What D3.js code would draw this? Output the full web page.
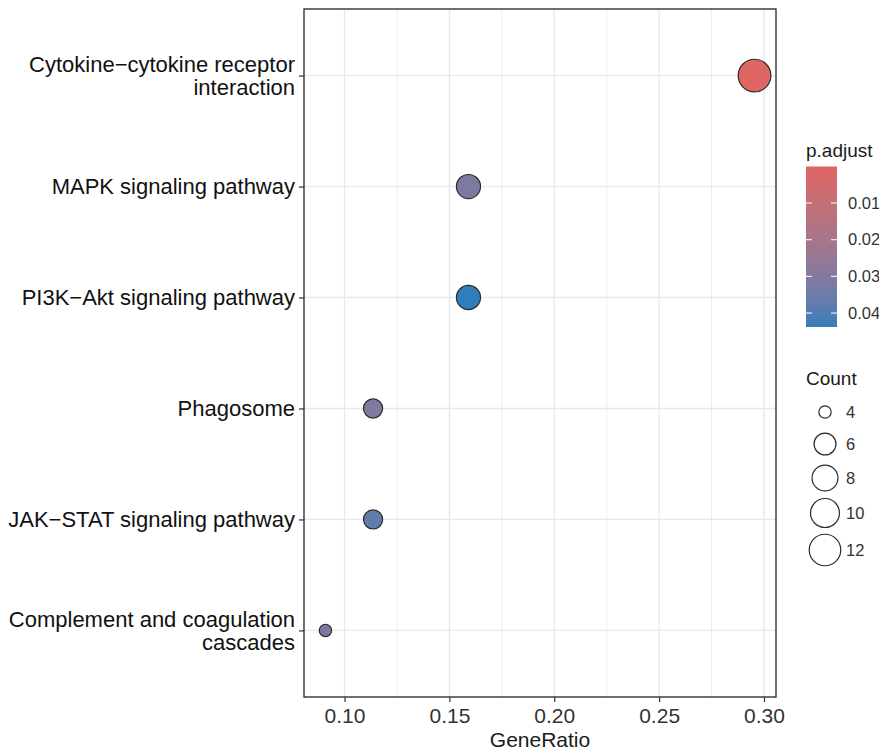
<!DOCTYPE html>
<html>
<head>
<meta charset="utf-8">
<script src="https://cdn.jsdelivr.net/npm/d3@7"></script>
<style>
  html, body { margin: 0; padding: 0; background: #fff; }
  svg { display: block; font-family: "Liberation Sans", Arial, sans-serif; }
</style>
</head>
<body>
<svg id="chart" width="879" height="752"></svg>
<script>
// KEGG enrichment dot plot data
const pathways = [
  "Cytokine\u2212cytokine receptor interaction",
  "MAPK signaling pathway",
  "PI3K\u2212Akt signaling pathway",
  "Phagosome",
  "JAK\u2212STAT signaling pathway",
  "Complement and coagulation cascades"
];
const geneRatio = [0.2955, 0.1591, 0.1591, 0.1136, 0.1136, 0.0909];
const geneCount = [13, 7, 7, 5, 5, 4];
const pAdjust = [0.00005, 0.0315, 0.0438, 0.0310, 0.0375, 0.0315];

const xTicks = [0.10, 0.15, 0.20, 0.25, 0.30];
const pTicks = [0.01, 0.02, 0.03, 0.04];
const countBreaks = [4, 6, 8, 10, 12];
const colorLow = "#e06663", colorHigh = "#327eba";

const rows = pathways.map((p, i) => ({
  name: p, ratio: geneRatio[i], count: geneCount[i], p: pAdjust[i]
}));

const svg = d3.select("#chart");
const panel = { left: 304, right: 776, top: 9, bottom: 697 };

// x scale with 5% expansion on each side
const xExt = d3.extent(geneRatio);
const xPad = (xExt[1] - xExt[0]) * 0.05;
const x = d3.scaleLinear()
  .domain([xExt[0] - xPad, xExt[1] + xPad])
  .range([panel.left, panel.right]);

const y = d3.scalePoint()
  .domain(pathways)
  .range([panel.top, panel.bottom])
  .padding(0.6);

// colour: smallest p.adjust is red, largest is blue
const pExt = d3.extent(pAdjust);
const color = d3.scaleLinear()
  .domain(pExt)
  .range([colorLow, colorHigh])
  .interpolate(d3.interpolateLab);

// size: area-proportional mapping into [3, 8] point sizes
const cExt = [4, 13];
const sizeNorm = d3.scaleLinear().domain(cExt).range([0, 1]).clamp(true);
const sizeArea = d3.scaleSqrt().domain([0, 1]).range([3, 8]);
const radius = c => 1.43 * (sizeArea(sizeNorm(c)) * 2.845 + 0.945) / 2;

// grid lines
const g = svg.append("g");
const minorTicks = d3.range(0.075, 0.3251, 0.05).filter(v => x(v) > panel.left && x(v) < panel.right);
g.selectAll("line.minor").data(minorTicks).join("line")
  .attr("x1", d => x(d)).attr("x2", d => x(d))
  .attr("y1", panel.top).attr("y2", panel.bottom)
  .attr("stroke", "#eeeeee").attr("stroke-width", 1);
g.selectAll("line.majx").data(xTicks).join("line")
  .attr("x1", d => x(d)).attr("x2", d => x(d))
  .attr("y1", panel.top).attr("y2", panel.bottom)
  .attr("stroke", "#e8e8e8").attr("stroke-width", 1.3);
g.selectAll("line.majy").data(pathways).join("line")
  .attr("x1", panel.left).attr("x2", panel.right)
  .attr("y1", d => y(d)).attr("y2", d => y(d))
  .attr("stroke", "#e8e8e8").attr("stroke-width", 1.3);

// points
svg.append("g").selectAll("circle").data(rows).join("circle")
  .attr("cx", d => x(d.ratio))
  .attr("cy", d => y(d.name))
  .attr("r", d => radius(d.count) - 0.6)
  .attr("fill", d => color(d.p))
  .attr("stroke", "#2b2b2b")
  .attr("stroke-width", 1.2);

// panel border
svg.append("rect")
  .attr("x", panel.left).attr("y", panel.top)
  .attr("width", panel.right - panel.left)
  .attr("height", panel.bottom - panel.top)
  .attr("fill", "none").attr("stroke", "#333").attr("stroke-width", 1.4);

// x axis
const xAxis = svg.append("g")
  .attr("transform", `translate(0,${panel.bottom})`)
  .call(d3.axisBottom(x).tickValues(xTicks).tickFormat(d3.format(".2f")).tickSizeOuter(0).tickSizeInner(5).tickPadding(6));
xAxis.select(".domain").remove();
xAxis.selectAll(".tick line").attr("stroke", "#333").attr("stroke-width", 1.2);
xAxis.selectAll(".tick text")
  .attr("font-size", 21).attr("fill", "#333")
  .attr("font-family", "Liberation Sans, Arial, sans-serif");

svg.append("text")
  .attr("x", (panel.left + panel.right) / 2).attr("y", 747)
  .attr("text-anchor", "middle")
  .attr("font-size", 21).attr("fill", "#1a1a1a")
  .text("GeneRatio");

// y axis with wrapped labels
const yAxis = svg.append("g")
  .attr("transform", `translate(${panel.left},0)`)
  .call(d3.axisLeft(y).tickSizeOuter(0).tickSizeInner(5).tickPadding(8).tickFormat(""));
yAxis.select(".domain").remove();
yAxis.selectAll(".tick line").attr("stroke", "#333").attr("stroke-width", 1.2);

function wrap(str, width) {
  const words = str.split(" ");
  const lines = [];
  let cur = "";
  words.forEach(w => {
    if (cur && (cur + " " + w).length > width) { lines.push(cur); cur = w; }
    else cur = cur ? cur + " " + w : w;
  });
  if (cur) lines.push(cur);
  return lines;
}

const lineH = 23;
pathways.forEach(p => {
  const lines = wrap(p, 30);
  const t = svg.append("text")
    .attr("x", panel.left - 9)
    .attr("text-anchor", "end")
    .attr("font-size", 22)
    .attr("fill", "#111");
  const y0 = y(p) - (lines.length - 1) * lineH / 2;
  lines.forEach((l, i) => {
    t.append("tspan").attr("x", panel.left - 9)
      .attr("y", y0 + i * lineH).attr("dy", "0.35em").text(l);
  });
});

// colour legend
const cb = { x: 806, y: 166.5, w: 31, h: 160.5 };
svg.append("text").attr("x", 806).attr("y", 157)
  .attr("font-size", 19).attr("fill", "#1a1a1a").text("p.adjust");

const defs = svg.append("defs");
const grad = defs.append("linearGradient").attr("id", "pgrad")
  .attr("x1", 0).attr("y1", 0).attr("x2", 0).attr("y2", 1);
d3.range(0, 1.0001, 0.05).forEach(t => {
  grad.append("stop").attr("offset", t)
    .attr("stop-color", color(pExt[0] + t * (pExt[1] - pExt[0])));
});
svg.append("rect").attr("x", cb.x).attr("y", cb.y)
  .attr("width", cb.w).attr("height", cb.h).attr("fill", "url(#pgrad)");

const pScale = d3.scaleLinear().domain(pExt).range([cb.y, cb.y + cb.h]);
const pt = svg.append("g");
pTicks.forEach(v => {
  const yy = pScale(v);
  pt.append("line").attr("x1", cb.x).attr("x2", cb.x + 6).attr("y1", yy).attr("y2", yy)
    .attr("stroke", "#fff").attr("stroke-width", 1.2).attr("opacity", 0.85);
  pt.append("line").attr("x1", cb.x + cb.w - 6).attr("x2", cb.x + cb.w).attr("y1", yy).attr("y2", yy)
    .attr("stroke", "#fff").attr("stroke-width", 1.2).attr("opacity", 0.85);
  pt.append("text").attr("x", 848).attr("y", yy).attr("dy", "0.35em")
    .attr("font-size", 16.5).attr("fill", "#333").text(d3.format(".2f")(v));
});

// size legend
svg.append("text").attr("x", 806).attr("y", 385)
  .attr("font-size", 19).attr("fill", "#1a1a1a").text("Count");
const keyY = [412, 444, 478, 513, 550];
const sl = svg.append("g");
countBreaks.forEach((c, i) => {
  sl.append("circle").attr("cx", 825).attr("cy", keyY[i])
    .attr("r", radius(c) - 0.6)
    .attr("fill", "none").attr("stroke", "#2b2b2b").attr("stroke-width", 1.2);
  sl.append("text").attr("x", 846).attr("y", keyY[i]).attr("dy", "0.35em")
    .attr("font-size", 16.5).attr("fill", "#333").text(c);
});
</script>
</body>
</html>
